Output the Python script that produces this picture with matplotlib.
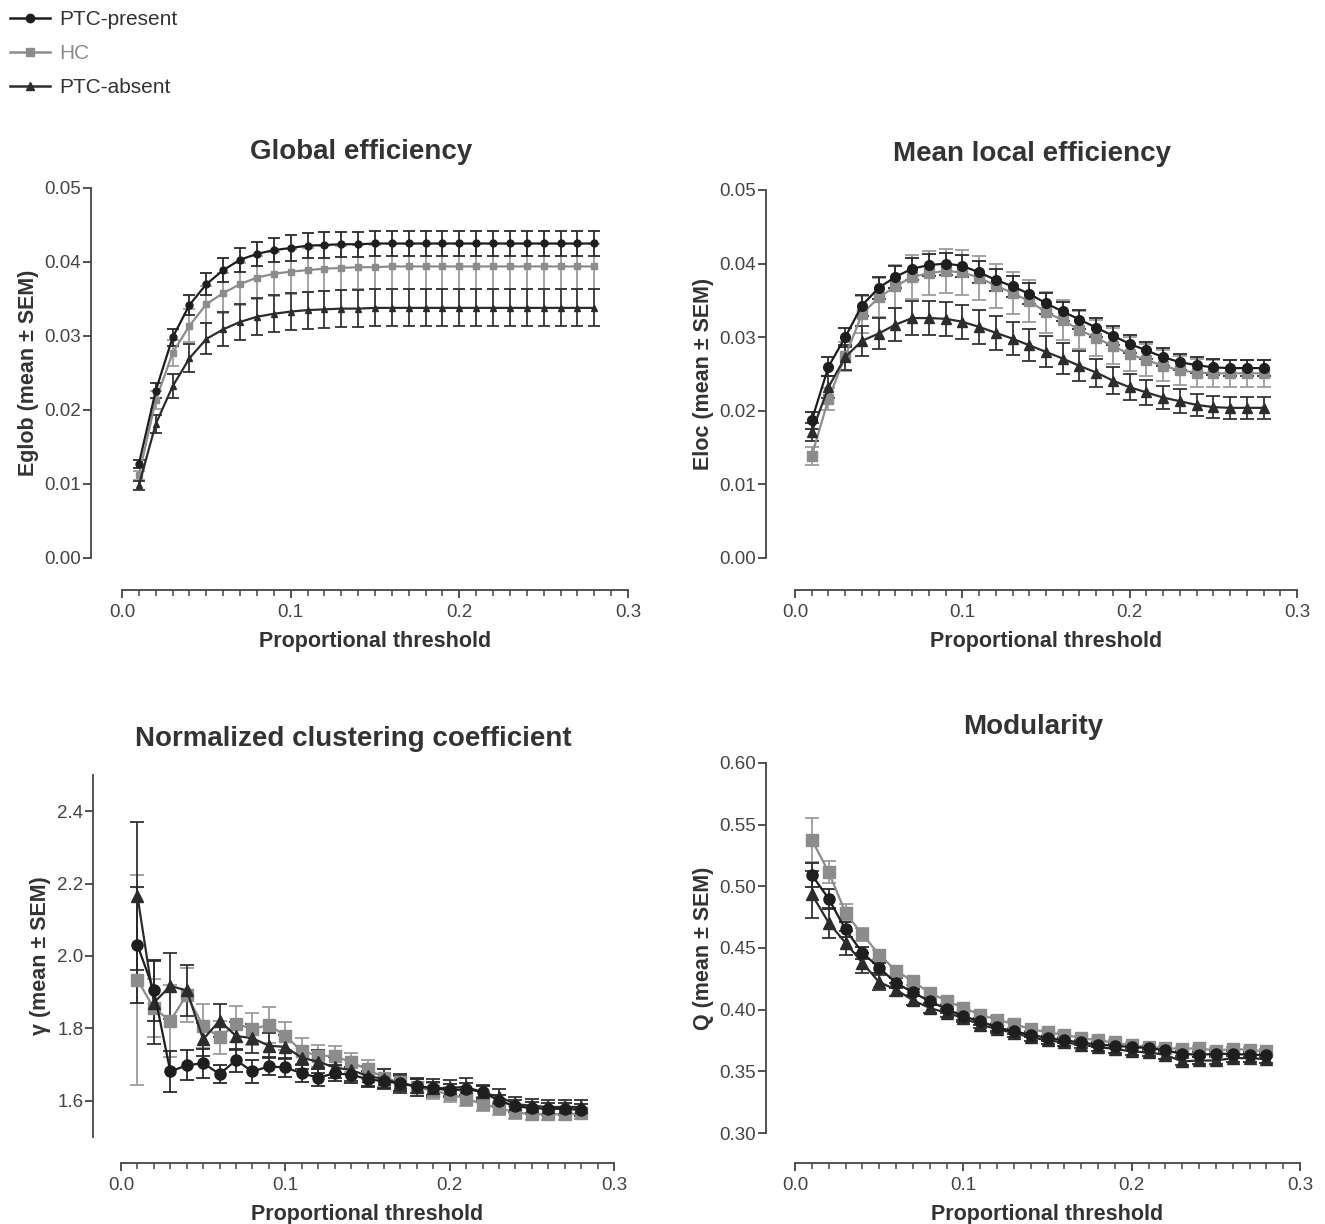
import matplotlib
matplotlib.use("Agg")
import matplotlib.pyplot as plt
from matplotlib.lines import Line2D
from matplotlib.ticker import MultipleLocator

plt.rcParams["font.family"] = ["Liberation Sans", "DejaVu Sans"]

# proportional thresholds (x)
thresholds = [0.01, 0.02, 0.03, 0.04, 0.05, 0.06, 0.07, 0.08, 0.09, 0.10,
              0.11, 0.12, 0.13, 0.14, 0.15, 0.16, 0.17, 0.18, 0.19, 0.20,
              0.21, 0.22, 0.23, 0.24, 0.25, 0.26, 0.27, 0.28]

groups = ["PTC-present", "HC", "PTC-absent"]

# --- global efficiency ---
eglob_present = [0.0127, 0.0226, 0.0298, 0.0342, 0.0370, 0.0389, 0.0403, 0.0411, 0.0416, 0.0419,
                 0.0422, 0.0423, 0.0424, 0.0424, 0.0425, 0.0425, 0.0425, 0.0425, 0.0425, 0.0425,
                 0.0425, 0.0425, 0.0425, 0.0425, 0.0425, 0.0425, 0.0425, 0.0425]
eglob_hc = [0.0112, 0.0213, 0.0277, 0.0314, 0.0343, 0.0358, 0.0370, 0.0379, 0.0384, 0.0387,
            0.0389, 0.0391, 0.0392, 0.0393, 0.0393, 0.0394, 0.0394, 0.0394, 0.0394, 0.0394,
            0.0394, 0.0394, 0.0394, 0.0394, 0.0394, 0.0394, 0.0394, 0.0394]
eglob_absent = [0.0098, 0.0181, 0.0232, 0.0270, 0.0296, 0.0309, 0.0319, 0.0326, 0.0330, 0.0333,
                0.0335, 0.0336, 0.0337, 0.0337, 0.0338, 0.0338, 0.0338, 0.0338, 0.0338, 0.0338,
                0.0338, 0.0338, 0.0338, 0.0338, 0.0338, 0.0338, 0.0338, 0.0338]
eglob_present_sem = [0.0005, 0.0010, 0.0012, 0.0013, 0.0015, 0.0016, 0.0016, 0.0016, 0.0016, 0.0017,
                     0.0017, 0.0017, 0.0017, 0.0017, 0.0017, 0.0017, 0.0017, 0.0017, 0.0017, 0.0017,
                     0.0017, 0.0017, 0.0017, 0.0017, 0.0017, 0.0017, 0.0017, 0.0017]
eglob_hc_sem = [0.0006, 0.0012, 0.0018, 0.0022, 0.0025, 0.0027, 0.0028, 0.0029, 0.0030, 0.0030,
                0.0030, 0.0030, 0.0030, 0.0030, 0.0030, 0.0030, 0.0030, 0.0030, 0.0030, 0.0030,
                0.0030, 0.0030, 0.0030, 0.0030, 0.0030, 0.0030, 0.0030, 0.0030]
eglob_absent_sem = [0.0006, 0.0012, 0.0016, 0.0019, 0.0021, 0.0023, 0.0024, 0.0025, 0.0025, 0.0025,
                    0.0025, 0.0025, 0.0025, 0.0025, 0.0025, 0.0025, 0.0025, 0.0025, 0.0025, 0.0025,
                    0.0025, 0.0025, 0.0025, 0.0025, 0.0025, 0.0025, 0.0025, 0.0025]

# --- mean local efficiency ---
eloc_present = [0.0187, 0.0260, 0.0300, 0.0343, 0.0367, 0.0382, 0.0393, 0.0398, 0.0400, 0.0397,
                0.0388, 0.0378, 0.0369, 0.0359, 0.0346, 0.0335, 0.0324, 0.0313, 0.0302, 0.0291,
                0.0282, 0.0273, 0.0266, 0.0262, 0.0259, 0.0258, 0.0258, 0.0258]
eloc_hc = [0.0139, 0.0216, 0.0274, 0.0331, 0.0354, 0.0369, 0.0382, 0.0387, 0.0390, 0.0388,
           0.0381, 0.0370, 0.0360, 0.0349, 0.0334, 0.0323, 0.0310, 0.0299, 0.0288, 0.0277,
           0.0269, 0.0261, 0.0255, 0.0252, 0.0251, 0.0251, 0.0251, 0.0251]
eloc_absent = [0.0171, 0.0232, 0.0273, 0.0295, 0.0305, 0.0317, 0.0326, 0.0326, 0.0325, 0.0321,
               0.0314, 0.0306, 0.0298, 0.0289, 0.0280, 0.0271, 0.0261, 0.0252, 0.0241, 0.0232,
               0.0225, 0.0218, 0.0213, 0.0208, 0.0205, 0.0204, 0.0204, 0.0204]
eloc_present_sem = [0.0012, 0.0013, 0.0013, 0.0014, 0.0015, 0.0015, 0.0015, 0.0015, 0.0015, 0.0015,
                    0.0015, 0.0015, 0.0014, 0.0014, 0.0014, 0.0013, 0.0013, 0.0013, 0.0013, 0.0012,
                    0.0012, 0.0012, 0.0011, 0.0011, 0.0011, 0.0011, 0.0011, 0.0011]
eloc_hc_sem = [0.0012, 0.0015, 0.0020, 0.0025, 0.0027, 0.0029, 0.0030, 0.0030, 0.0030, 0.0030,
               0.0030, 0.0030, 0.0029, 0.0029, 0.0028, 0.0027, 0.0026, 0.0025, 0.0024, 0.0023,
               0.0022, 0.0021, 0.0020, 0.0019, 0.0018, 0.0018, 0.0018, 0.0018]
eloc_absent_sem = [0.0012, 0.0015, 0.0017, 0.0020, 0.0021, 0.0022, 0.0023, 0.0023, 0.0023, 0.0023,
                   0.0023, 0.0023, 0.0022, 0.0022, 0.0021, 0.0021, 0.0020, 0.0019, 0.0018, 0.0018,
                   0.0017, 0.0016, 0.0016, 0.0015, 0.0015, 0.0015, 0.0015, 0.0015]

# --- normalized clustering coefficient ---
gamma_present = [2.030, 1.905, 1.681, 1.698, 1.704, 1.674, 1.712, 1.681, 1.695, 1.692,
                 1.676, 1.664, 1.676, 1.672, 1.660, 1.654, 1.648, 1.641, 1.635, 1.629,
                 1.632, 1.625, 1.600, 1.585, 1.580, 1.578, 1.578, 1.575]
gamma_hc = [1.934, 1.856, 1.821, 1.892, 1.807, 1.775, 1.813, 1.798, 1.810, 1.779,
            1.738, 1.724, 1.724, 1.706, 1.687, 1.664, 1.651, 1.637, 1.628, 1.618,
            1.606, 1.591, 1.580, 1.568, 1.563, 1.563, 1.563, 1.565]
gamma_absent = [2.166, 1.871, 1.917, 1.905, 1.770, 1.821, 1.779, 1.773, 1.752, 1.749,
                1.719, 1.708, 1.692, 1.685, 1.669, 1.660, 1.648, 1.639, 1.635, 1.635,
                1.639, 1.623, 1.611, 1.591, 1.586, 1.583, 1.583, 1.583]
gamma_present_sem = [0.160, 0.085, 0.057, 0.041, 0.040, 0.025, 0.032, 0.031, 0.025, 0.025,
                     0.024, 0.023, 0.022, 0.022, 0.021, 0.020, 0.020, 0.019, 0.018, 0.018,
                     0.018, 0.017, 0.017, 0.016, 0.016, 0.016, 0.016, 0.016]
gamma_hc_sem = [0.290, 0.080, 0.100, 0.075, 0.060, 0.045, 0.050, 0.045, 0.050, 0.040,
                0.035, 0.030, 0.028, 0.027, 0.026, 0.025, 0.024, 0.023, 0.022, 0.021,
                0.020, 0.019, 0.018, 0.017, 0.016, 0.015, 0.015, 0.015]
gamma_absent_sem = [0.205, 0.115, 0.090, 0.070, 0.045, 0.046, 0.040, 0.040, 0.035, 0.033,
                    0.032, 0.031, 0.030, 0.029, 0.028, 0.027, 0.026, 0.025, 0.024, 0.023,
                    0.023, 0.022, 0.021, 0.020, 0.020, 0.020, 0.020, 0.020]

# --- modularity ---
q_present = [0.5092, 0.4900, 0.4650, 0.4462, 0.4339, 0.4217, 0.4141, 0.4068, 0.4006, 0.3946,
             0.3906, 0.3857, 0.3824, 0.3797, 0.3770, 0.3751, 0.3734, 0.3716, 0.3708, 0.3697,
             0.3689, 0.3670, 0.3642, 0.3634, 0.3642, 0.3642, 0.3634, 0.3634]
q_hc = [0.5377, 0.5116, 0.4786, 0.4610, 0.4447, 0.4317, 0.4230, 0.4136, 0.4073, 0.4014,
        0.3959, 0.3919, 0.3884, 0.3843, 0.3816, 0.3797, 0.3770, 0.3751, 0.3734, 0.3710,
        0.3697, 0.3689, 0.3681, 0.3689, 0.3667, 0.3681, 0.3675, 0.3661]
q_absent = [0.4935, 0.4705, 0.4542, 0.4380, 0.4223, 0.4163, 0.4076, 0.4014, 0.3974, 0.3933,
            0.3878, 0.3843, 0.3811, 0.3775, 0.3751, 0.3734, 0.3716, 0.3697, 0.3681, 0.3661,
            0.3653, 0.3634, 0.3580, 0.3588, 0.3588, 0.3607, 0.3607, 0.3599]
q_present_sem = [0.010, 0.008, 0.006, 0.005, 0.004, 0.004, 0.003, 0.003, 0.003, 0.003,
                 0.003, 0.003, 0.002, 0.002, 0.002, 0.002, 0.002, 0.002, 0.002, 0.002,
                 0.002, 0.002, 0.002, 0.002, 0.002, 0.002, 0.002, 0.002]
q_hc_sem = [0.018, 0.009, 0.007, 0.005, 0.004, 0.004, 0.003, 0.003, 0.003, 0.003,
            0.003, 0.003, 0.003, 0.002, 0.002, 0.002, 0.002, 0.002, 0.002, 0.002,
            0.002, 0.002, 0.002, 0.002, 0.002, 0.002, 0.002, 0.002]
q_absent_sem = [0.019, 0.012, 0.0095, 0.008, 0.006, 0.005, 0.004, 0.004, 0.003, 0.003,
                0.003, 0.003, 0.003, 0.003, 0.003, 0.003, 0.003, 0.003, 0.003, 0.003,
                0.003, 0.003, 0.003, 0.003, 0.003, 0.003, 0.003, 0.003]

# group styles: colour, errorbar colour, marker
STYLE = {
    "PTC-present": ("#1e1e1e", "#2a2a2a", "o"),
    "HC": ("#8c8c8c", "#9c9c9c", "s"),
    "PTC-absent": ("#2c2c2c", "#333333", "^"),
}
DRAW_ORDER = ["HC", "PTC-absent", "PTC-present"]

W, H = 1325, 1224
fig = plt.figure(figsize=(W / 100, H / 100), dpi=100)


def px_axes(left, right, top, bottom):
    return fig.add_axes([left / W, 1 - bottom / H, (right - left) / W, (bottom - top) / H])


panels = [
    dict(box=(122, 628, 188, 558), title="Global efficiency", ylabel="Eglob (mean ± SEM)",
         ylim=(0, 0.05), ystep=0.01, fmt="{:.2f}", ms=5, cap=4, offs=(31, 32),
         data={"PTC-present": (eglob_present, eglob_present_sem),
               "HC": (eglob_hc, eglob_hc_sem),
               "PTC-absent": (eglob_absent, eglob_absent_sem)}),
    dict(box=(795, 1297, 190, 558), title="Mean local efficiency", ylabel="Eloc (mean ± SEM)",
         ylim=(0, 0.05), ystep=0.01, fmt="{:.2f}", ms=7, cap=5, offs=(29, 32),
         data={"PTC-present": (eloc_present, eloc_present_sem),
               "HC": (eloc_hc, eloc_hc_sem),
               "PTC-absent": (eloc_absent, eloc_absent_sem)}),
    dict(box=(121, 614, 775, 1137), title="Normalized clustering coefficient", ylabel="γ (mean ± SEM)",
         ylim=(1.5, 2.5), ystep=0.2, fmt="{:.1f}", ms=8, cap=5, offs=(28, 26),
         yticks=[1.6, 1.8, 2.0, 2.2, 2.4],
         data={"PTC-present": (gamma_present, gamma_present_sem),
               "HC": (gamma_hc, gamma_hc_sem),
               "PTC-absent": (gamma_absent, gamma_absent_sem)}),
    dict(box=(795, 1300, 763, 1133), title="Modularity", ylabel="Q (mean ± SEM)",
         ylim=(0.3, 0.6), ystep=0.05, fmt="{:.2f}", ms=8, cap=5, offs=(29, 30),
         data={"PTC-present": (q_present, q_present_sem),
               "HC": (q_hc, q_hc_sem),
               "PTC-absent": (q_absent, q_absent_sem)}),
]

spine_col = "#444444"
text_col = "#333333"

for p in panels:
    ax = px_axes(*p["box"])
    for g in DRAW_ORDER:
        col, ecol, mk = STYLE[g]
        vals, sem = p["data"][g]
        ax.errorbar(thresholds, vals, yerr=sem, color=col, ecolor=ecol, marker=mk,
                    markersize=p["ms"], markeredgecolor=col, lw=1.6, elinewidth=1.3,
                    capsize=p["cap"], capthick=1.3, clip_on=False)

    ax.set_xlim(0, 0.3)
    ax.set_ylim(*p["ylim"])
    ax.xaxis.set_major_locator(MultipleLocator(0.1))
    ax.xaxis.set_minor_locator(MultipleLocator(0.01))
    if "yticks" in p:
        ax.set_yticks(p["yticks"])
    else:
        ax.yaxis.set_major_locator(MultipleLocator(p["ystep"]))
    ax.set_xticklabels([f"{v:.1f}" for v in ax.get_xticks()])
    ax.set_yticklabels([p["fmt"].format(v) for v in ax.get_yticks()])

    for s in ("top", "right"):
        ax.spines[s].set_visible(False)
    ax.spines["left"].set_position(("outward", p["offs"][0] * 0.72))
    ax.spines["bottom"].set_position(("outward", p["offs"][1] * 0.72))
    for s in ("left", "bottom"):
        ax.spines[s].set_color(spine_col)
        ax.spines[s].set_linewidth(1.3)

    ax.tick_params(axis="both", which="major", direction="out", length=6, width=1.3,
                   color=spine_col, labelsize=13.5, labelcolor="#444444")
    ax.tick_params(axis="x", which="minor", direction="out", length=4, width=1.1, color=spine_col)
    ax.tick_params(axis="y", which="major", pad=1)
    ax.tick_params(axis="x", which="major", pad=4)

    ax.set_xlabel("Proportional threshold", fontsize=15.5, fontweight="bold", color=text_col, labelpad=7)
    ax.set_ylabel(p["ylabel"], fontsize=15.5, fontweight="bold", color=text_col, labelpad=4)
    ax.set_title(p["title"], fontsize=20, fontweight="bold", color=text_col, pad=21, x=0.472)

# legend in the top-left corner
handles = []
for g in groups:
    col, ecol, mk = STYLE[g]
    handles.append(Line2D([], [], color=col, marker=mk, markersize=6, lw=1.8, markeredgecolor=col))
leg = fig.legend(handles, groups, loc="upper left", bbox_to_anchor=(0.0, 1.0), frameon=False,
                 fontsize=15, handlelength=1.9, labelspacing=0.72, handletextpad=0.45,
                 borderaxespad=0.15, borderpad=0.35)
for txt, g in zip(leg.get_texts(), groups):
    txt.set_color("#8c8c8c" if g == "HC" else text_col)

fig.savefig("out.png", dpi=100)
